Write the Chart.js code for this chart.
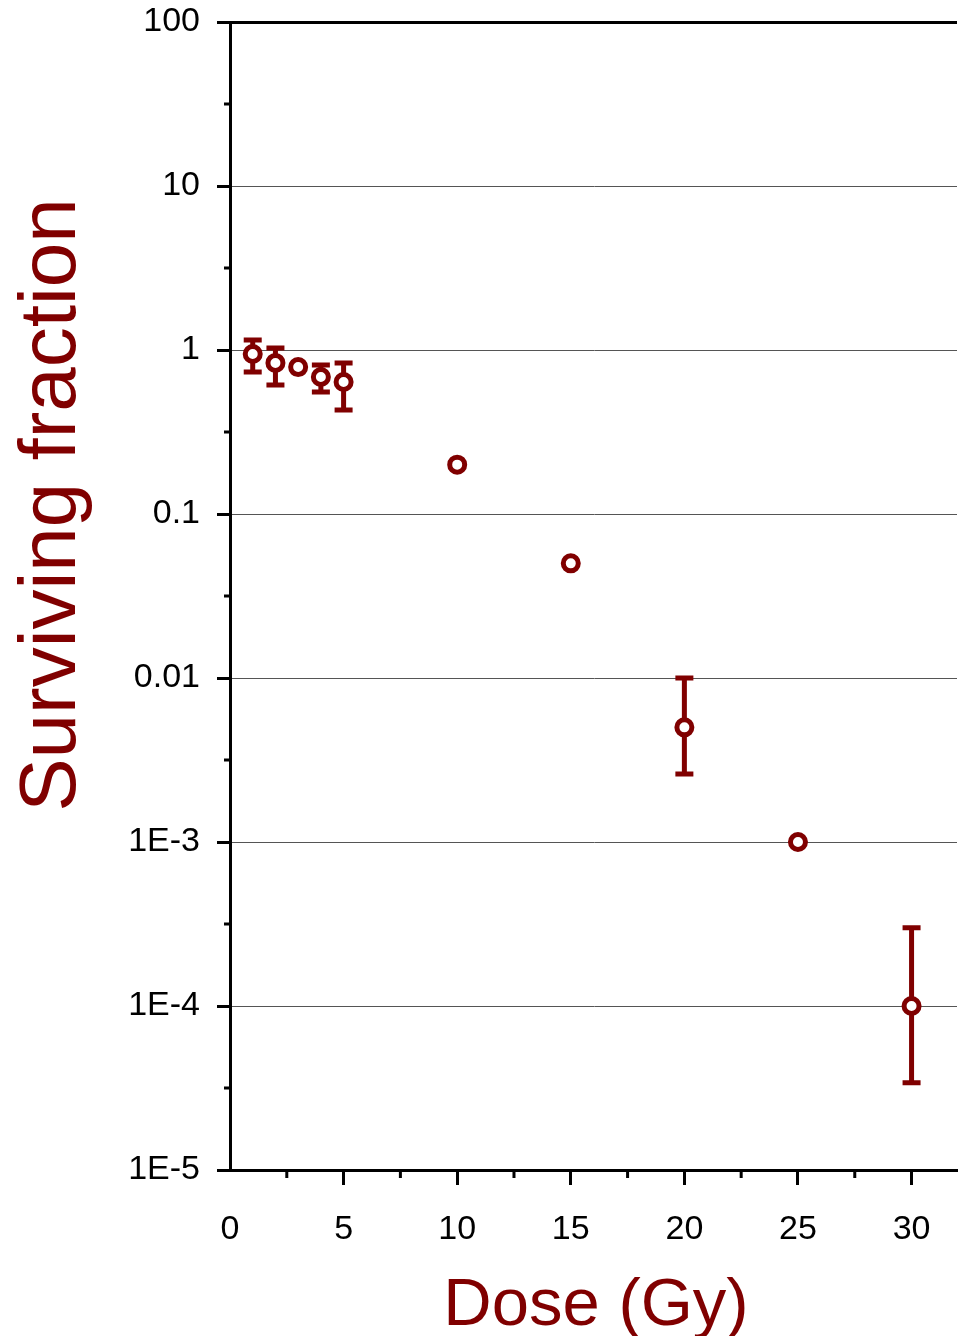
<!DOCTYPE html>
<html>
<head>
<meta charset="utf-8">
<script src="https://cdn.jsdelivr.net/npm/chart.js@4"></script>
<style>
  html, body { margin: 0; padding: 0; background: #fff; }
  #wrap { width: 958px; height: 1336px; }
</style>
</head>
<body>
<div id="wrap"><canvas id="chart" width="958" height="1336"></canvas></div>
<script>
'use strict';
const doses = [1, 2, 3, 4, 5, 10, 15, 20, 25, 30];
const survival = [0.945, 0.834, 0.787, 0.684, 0.638, 0.2, 0.05, 0.005, 0.001, 0.0001];
const errHigh = [1.15, 1.03, null, 0.81, 0.834, null, null, 0.01, null, 0.0003];
const errLow = [0.734, 0.612, null, 0.555, 0.43, null, null, 0.0026, null, 0.000034];

const yTickValues = [1e-5, 1e-4, 1e-3, 0.01, 0.1, 1, 10, 100];
const yTickLabels = ['1E-5', '1E-4', '1E-3', '0.01', '0.1', '1', '10', '100'];
const yMinorValues = [3.16e-5, 3.16e-4, 3.16e-3, 0.0316, 0.316, 3.16, 31.6];
const xTickValues = [0, 5, 10, 15, 20, 25, 30];
const xMinorValues = [2.5, 7.5, 12.5, 17.5, 22.5, 27.5];

const red = '#800000';
const font = 'Liberation Sans, Arial, sans-serif';

// error bars, under the circles
const errorBars = {
  id: 'errorBars',
  beforeDatasetsDraw(chart) {
    const ctx = chart.ctx;
    const xs = chart.scales.x;
    const ys = chart.scales.y;
    ctx.save();
    ctx.strokeStyle = red;
    ctx.lineWidth = 5;
    for (let i = 0; i < doses.length; i++) {
      if (errHigh[i] === null) continue;
      const x = xs.getPixelForValue(doses[i]);
      const yt = ys.getPixelForValue(errHigh[i]);
      const yb = ys.getPixelForValue(errLow[i]);
      ctx.beginPath();
      ctx.moveTo(x, yt);
      ctx.lineTo(x, yb);
      ctx.moveTo(x - 9, yt);
      ctx.lineTo(x + 9, yt);
      ctx.moveTo(x - 9, yb);
      ctx.lineTo(x + 9, yb);
      ctx.stroke();
    }
    ctx.restore();
  }
};

// minor ticks and axis titles
const extras = {
  id: 'extras',
  afterDraw(chart) {
    const ctx = chart.ctx;
    const xs = chart.scales.x;
    const ys = chart.scales.y;
    const area = chart.chartArea;
    ctx.save();
    ctx.strokeStyle = '#000';
    ctx.lineWidth = 3;
    ctx.beginPath();
    for (const v of yMinorValues) {
      const y = ys.getPixelForValue(v);
      ctx.moveTo(area.left - 6, y);
      ctx.lineTo(area.left, y);
    }
    for (const v of xMinorValues) {
      const x = xs.getPixelForValue(v);
      ctx.moveTo(x, area.bottom);
      ctx.lineTo(x, area.bottom + 8);
    }
    ctx.stroke();

    ctx.fillStyle = red;
    ctx.font = '80px ' + font;
    ctx.textAlign = 'center';
    ctx.textBaseline = 'alphabetic';
    ctx.translate(75, 505);
    ctx.rotate(-Math.PI / 2);
    ctx.fillText('Surviving fraction', 0, 0);
    ctx.setTransform(1, 0, 0, 1, 0, 0);
    ctx.font = '67px ' + font;
    ctx.fillText('Dose (Gy)', 596, 1325);
    ctx.restore();
  }
};

function noPad(scale) {
  scale.paddingTop = 0;
  scale.paddingBottom = 0;
  scale.paddingLeft = 0;
  scale.paddingRight = 0;
}

new Chart(document.getElementById('chart'), {
  type: 'scatter',
  data: {
    datasets: [{
      data: doses.map((d, i) => ({ x: d, y: survival[i] })),
      showLine: false,
      pointRadius: 7.5,
      pointHoverRadius: 7.5,
      pointBorderWidth: 5,
      pointBackgroundColor: '#fff',
      pointBorderColor: red,
    }]
  },
  plugins: [errorBars, extras],
  options: {
    responsive: false,
    animation: false,
    layout: { autoPadding: false, padding: { top: 22, right: 1, left: 0, bottom: 0 } },
    plugins: { legend: { display: false }, tooltip: { enabled: false } },
    scales: {
      x: {
        type: 'linear',
        min: 0,
        max: 32,
        afterBuildTicks(scale) { scale.ticks = xTickValues.map(v => ({ value: v })); },
        afterFit(scale) { scale.height = 1336 - 1170; noPad(scale); },
        border: { color: '#000', width: 3 },
        grid: {
          drawOnChartArea: false,
          tickLength: 15,
          tickWidth: 3,
          tickColor: c => (c.tick && c.tick.value === 0 ? 'rgba(0,0,0,0)' : '#000'),
        },
        ticks: {
          autoSkip: false,
          maxRotation: 0,
          padding: 24,
          color: '#000',
          font: { family: font, size: 34 },
        }
      },
      y: {
        type: 'logarithmic',
        min: 1e-5,
        max: 100,
        afterBuildTicks(scale) { scale.ticks = yTickValues.map(v => ({ value: v })); },
        afterFit(scale) { scale.width = 230; noPad(scale); },
        border: { color: '#000', width: 3 },
        grid: {
          tickLength: 13,
          tickWidth: 3,
          tickColor: '#000',
          color: c => (c.tick && c.tick.value === 100 ? '#000' : '#555'),
          lineWidth: c => (c.tick && c.tick.value === 100 ? 3 : 1),
        },
        ticks: {
          autoSkip: false,
          padding: 17,
          color: '#000',
          font: { family: font, size: 34 },
          callback: (v, i) => yTickLabels[i],
        }
      }
    }
  }
});
</script>
</body>
</html>
